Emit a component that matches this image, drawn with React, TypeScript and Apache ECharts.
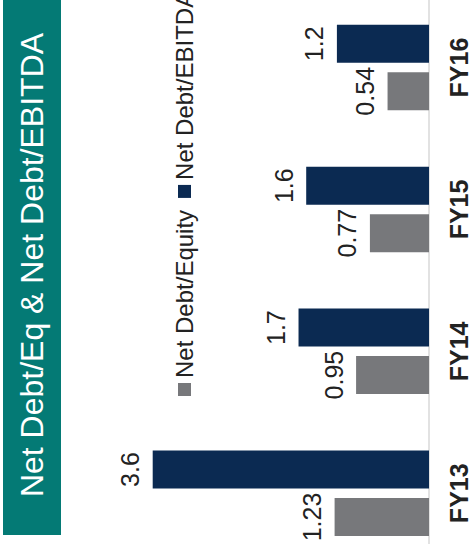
import React, { useEffect, useRef } from "react";
import * as echarts from "echarts";

const categories = ["FY13", "FY14", "FY15", "FY16"];
const netDebtEquity = [1.23, 0.95, 0.77, 0.54];
const netDebtEbitda = [3.6, 1.7, 1.6, 1.2];
const seriesNames = ["Net Debt/Equity", "Net Debt/EBITDA"];
const titleText = "Net Debt/Eq & Net Debt/EBITDA";

const FONT = '"Liberation Sans", Arial, Helvetica, sans-serif';

export default function App() {
  const ref = useRef<HTMLDivElement>(null);

  useEffect(() => {
    if (!ref.current) return;
    const chart = echarts.init(ref.current, null, { renderer: "svg" });
    chart.setOption({
      animation: false,
      backgroundColor: "#ffffff",
      textStyle: { fontFamily: FONT },
      graphic: [
        {
          type: "rect",
          shape: { x: 35, y: 3, width: 600, height: 58 },
          style: { fill: "#047a75" },
          silent: true,
        },
        {
          type: "text",
          x: 305,
          y: 32,
          style: {
            text: titleText,
            fill: "#ffffff",
            font: `32px ${FONT}`,
            textAlign: "center",
            textVerticalAlign: "middle",
          },
        },
      ],
      legend: {
        data: seriesNames,
        left: 169,
        top: 166.5,
        itemWidth: 13,
        itemHeight: 13,
        itemGap: 12,
        icon: "rect",
        textStyle: { fontSize: 24, lineHeight: 26, color: "#222222", fontFamily: FONT },
      },
      grid: { left: 5.8, right: 26.6, top: 122, bottom: 45, containLabel: false },
      xAxis: {
        type: "category",
        data: categories,
        axisLine: { show: true, lineStyle: { color: "#d9d9d9", width: 1.5 } },
        axisTick: { show: false },
        axisLabel: {
          fontSize: 25,
          lineHeight: 25,
          fontWeight: "bold",
          color: "#222222",
          margin: 17,
          fontFamily: FONT,
        },
      },
      yAxis: {
        type: "value",
        min: 0,
        max: 4,
        show: false,
        splitLine: { show: false },
      },
      series: [
        {
          name: seriesNames[0],
          type: "bar",
          data: netDebtEquity,
          barWidth: 38,
          barGap: "25%",
          itemStyle: { color: "#77787b" },
          label: {
            show: true,
            position: "top",
            distance: 10,
            fontSize: 25,
            lineHeight: 25,
            color: "#222222",
            fontFamily: FONT,
          },
        },
        {
          name: seriesNames[1],
          type: "bar",
          data: netDebtEbitda,
          barWidth: 38,
          barGap: "25%",
          itemStyle: { color: "#0b2a52" },
          label: {
            show: true,
            position: "top",
            distance: 10,
            fontSize: 25,
            lineHeight: 25,
            color: "#222222",
            fontFamily: FONT,
          },
        },
      ],
    });
    return () => chart.dispose();
  }, []);

  return (
    <div
      style={{
        position: "fixed",
        left: 0,
        top: 0,
        width: 474,
        height: 544,
        overflow: "hidden",
        background: "#ffffff",
      }}
    >
      <div
        ref={ref}
        style={{
          position: "absolute",
          left: 0,
          top: 0,
          width: 600,
          height: 474,
          transformOrigin: "0 0",
          transform: "translate(0px, 570px) rotate(-90deg)",
        }}
      />
    </div>
  );
}
